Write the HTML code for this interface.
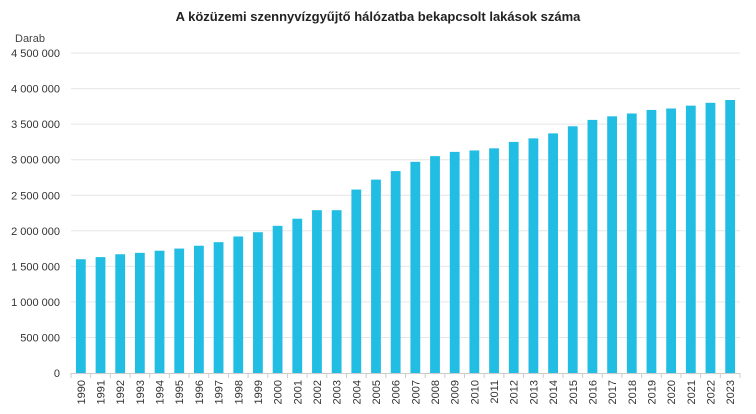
<!DOCTYPE html>
<html><head><meta charset="utf-8"><style>
body{margin:0;background:#fff;}
svg text{font-family:"Liberation Sans",sans-serif;}
</style></head><body>
<svg width="756" height="409" xmlns="http://www.w3.org/2000/svg">
<text x="378" y="21" text-anchor="middle" font-size="13" font-weight="bold" fill="#222">A közüzemi szennyvízgyűjtő hálózatba bekapcsolt lakások száma</text>
<text x="15" y="42" font-size="11" fill="#444">Darab</text>
<g id="grid"></g>
<g id="bars"></g>
<g id="xl"></g>
</svg>
<script>
var ns="http://www.w3.org/2000/svg";
var vals=[1.60,1.63,1.67,1.69,1.72,1.75,1.79,1.84,1.92,1.98,2.07,2.17,2.29,2.29,2.58,2.72,2.84,2.97,3.05,3.11,3.13,3.16,3.25,3.30,3.37,3.47,3.56,3.61,3.65,3.70,3.72,3.76,3.80,3.84];
var L=71,R=740,B=373,k=71.1,n=34,w=(R-L)/n;
function el(t,a,p,txt){var e=document.createElementNS(ns,t);for(var x in a)e.setAttribute(x,a[x]);if(txt!=null)e.textContent=txt;document.getElementById(p).appendChild(e);return e;}
var labs=["0","500 000","1 000 000","1 500 000","2 000 000","2 500 000","3 000 000","3 500 000","4 000 000","4 500 000"];
for(var i=0;i<=9;i++){var y=B-i*k/2;
 if(i>0)el("line",{x1:L,x2:R,y1:y,y2:y,stroke:"#e6e6e6","stroke-width":1},"grid");
 el("text",{x:60,y:y+4,"text-anchor":"end","font-size":"11",fill:"#333"},"grid",labs[i]);}
el("line",{x1:L,x2:R,y1:B+0.5,y2:B+0.5,stroke:"#ccc","stroke-width":1},"grid");
for(var i=0;i<n;i++){var c=L+w*(i+0.5),h=vals[i]*k;
 el("rect",{x:c-4.9,y:B-h,width:9.8,height:h,fill:"#22bde3"},"bars");
 el("line",{x1:L+w*i,x2:L+w*i,y1:B,y2:B+5,stroke:"#ccc"},"xl");
 el("text",{transform:"translate("+(c+4)+","+(B+7)+") rotate(-90)","text-anchor":"end","font-size":"11",fill:"#333"},"xl",String(1990+i));}
el("line",{x1:R,x2:R,y1:B,y2:B+5,stroke:"#ccc"},"xl");
</script>
</body></html>
